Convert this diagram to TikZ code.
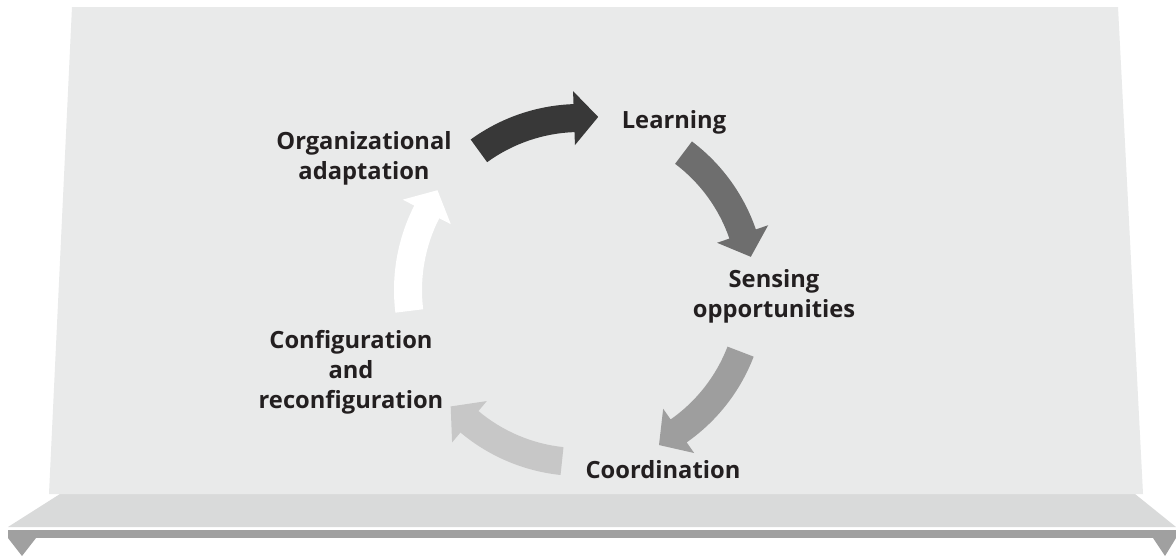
\documentclass[tikz,border=0pt]{standalone}
\usepackage{fontspec}
\setmainfont{Open Sans}
\usepackage{tikz}
\usetikzlibrary{arrows,%
                shapes,positioning}
\definecolor{panelgray}{HTML}{E9EAEA}
\definecolor{shelfgray}{HTML}{D9DADA}
\definecolor{edgegray}{HTML}{A0A0A0}
\definecolor{labelink}{HTML}{231F20}
\newcommand{\cyclearrow}[2]{%
\fill[#1] ({#2}:186) arc[start angle=#2, end angle=#2-34, radius=186]
  -- ({#2-34}:199) -- ({#2-42}:174) -- ({#2-34}:145) -- ({#2-34}:158)
  arc[start angle=#2-34, end angle=#2, radius=158] -- cycle;}
\begin{document}
\begin{tikzpicture}[x=0.02cm,y=0.02cm,
  stage/.style={align=center,text=labelink,font=\fontsize{13.5}{17}\selectfont\bfseries}]
\useasboundingbox (0,0) rectangle (1176,556);
\fill[white] (0,0) rectangle (1176,556);
\fill[shelfgray] (60,62) -- (1135,62) -- (1176,29) -- (8,29) -- cycle;
\fill[edgegray] (8,18) rectangle (1176,26);
\fill[edgegray] (8,18) -- (36,18) -- (22,0) -- cycle;
\fill[edgegray] (1153,18) -- (1176,18) -- (1165,0) -- cycle;
\fill[panelgray] (72,549) -- (1118,549) -- (1143,62) -- (49,62) -- cycle;
\begin{scope}[shift={(580,266)}]
\cyclearrow{black!78}{126}
\cyclearrow{black!57}{53}
\cyclearrow{black!38}{-21}
\cyclearrow{black!22}{-96}
\cyclearrow{white}{187}
\end{scope}
\node[stage] (adapt) at (364,398) {Organizational\\adaptation};
\node[stage] (learn) at (674,434) {Learning};
\node[stage] (sense) at (774,260) {Sensing\\opportunities};
\node[stage] (coord) at (663,86) {Coordination};
\node[stage] (config) at (351,184) {Configuration\\and\\reconfiguration};
\end{tikzpicture}
\end{document}
